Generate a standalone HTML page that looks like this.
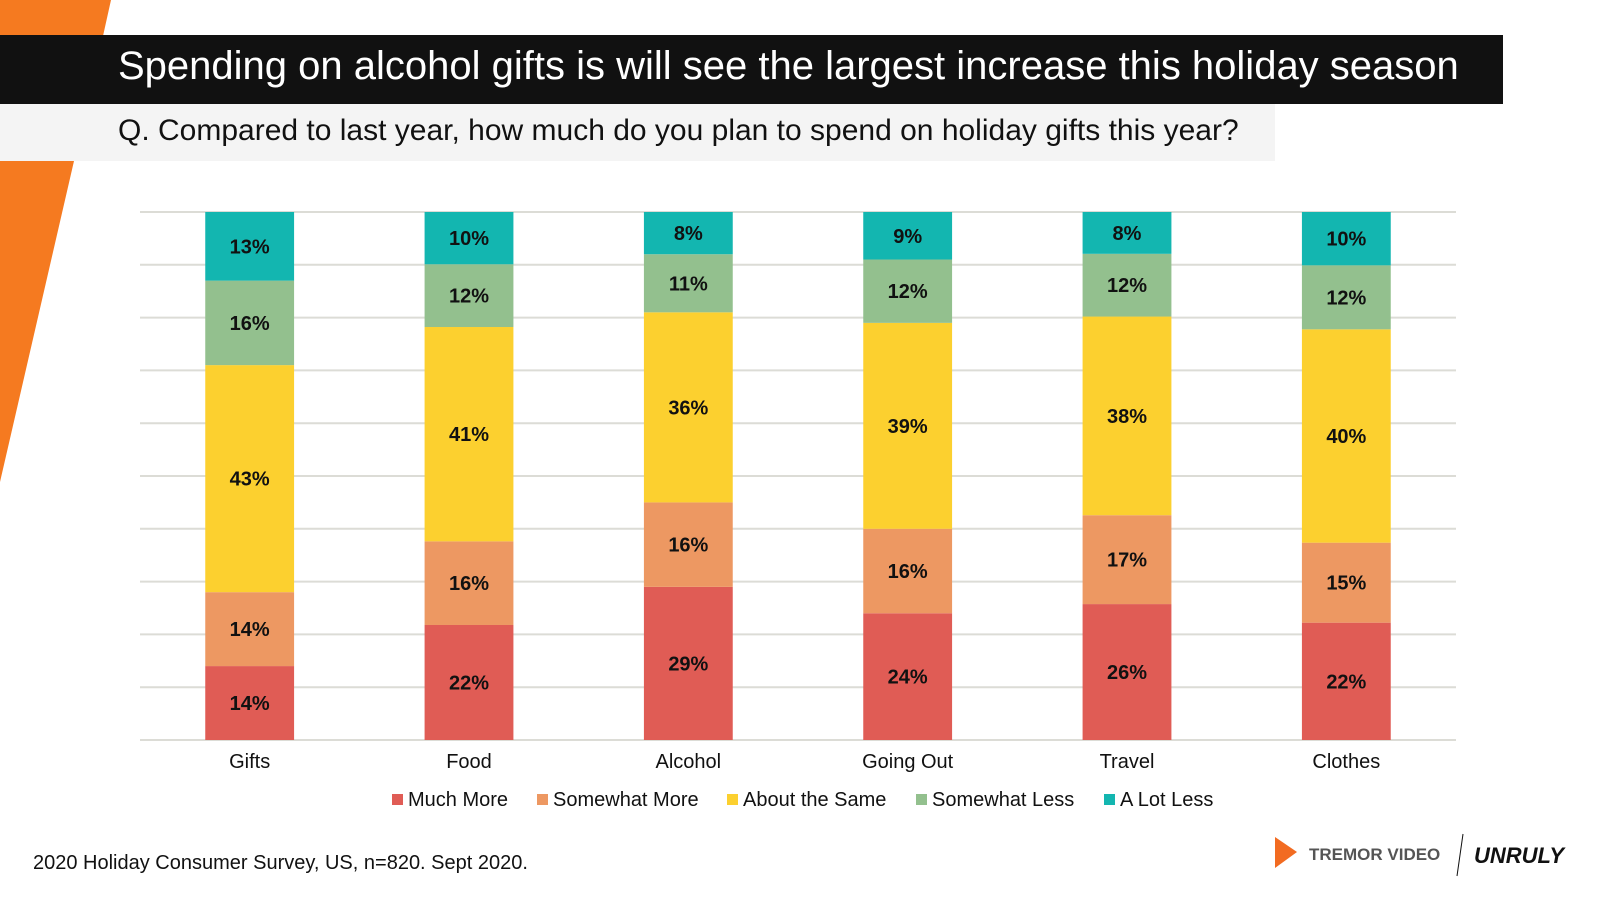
<!DOCTYPE html>
<html><head><meta charset="utf-8"><style>
body{margin:0;width:1600px;height:900px;overflow:hidden;background:#fff;font-family:"Liberation Sans",Arial,sans-serif;position:relative}
.abs{position:absolute}
</style></head><body>
<svg class="abs" style="left:0;top:0" width="1600" height="900">
<polygon points="0,0 111,0 103,36 0,36" fill="#f57a20"/>
<polygon points="0,161 74,161 0,482" fill="#f57a20"/>
</svg>
<div class="abs" style="left:0;top:35px;width:1503px;height:69px;background:#111;"></div>
<div class="abs" style="left:118px;top:44px;color:#fff;font-size:40px;white-space:nowrap;">Spending on alcohol gifts is will see the largest increase this holiday season</div>
<div class="abs" style="left:0;top:104px;width:1275px;height:57px;background:#f4f4f4;"></div>
<div class="abs" style="left:118px;top:114px;color:#111;font-size:30px;white-space:nowrap;">Q. Compared to last year, how much do you plan to spend on holiday gifts this year?</div>
<svg id="chart" class="abs" style="left:0;top:0" width="1600" height="900"></svg>
<div class="abs" style="left:33px;top:852px;font-size:20px;color:#111;white-space:nowrap;">2020 Holiday Consumer Survey, US, n=820. Sept 2020.</div>
<svg class="abs" style="left:1275px;top:830px" width="320" height="50">
<polygon points="0,7 22,22 0,38" fill="#f26b21"/>
<text x="34" y="30" font-family="Liberation Sans" font-weight="bold" font-size="17" fill="#555">TREMOR VIDEO</text>
<line x1="182" y1="46" x2="188" y2="4" stroke="#111" stroke-width="1"/>
<text x="199" y="33" font-family="Liberation Sans" font-weight="bold" font-style="italic" font-size="22" fill="#111">UNRULY</text>
</svg>
<script>
const categories=["Gifts","Food","Alcohol","Going Out","Travel","Clothes"];
const seriesNames=["Much More","Somewhat More","About the Same","Somewhat Less","A Lot Less"];
const muchMore=[14,22,29,24,26,22];
const somewhatMore=[14,16,16,16,17,15];
const aboutSame=[43,41,36,39,38,40];
const somewhatLess=[16,12,11,12,12,12];
const aLotLess=[13,10,8,9,8,10];
const colors=["#e05c55","#ed9862","#fcd02f","#93c08e","#13b6b0"];
const series=[muchMore,somewhatMore,aboutSame,somewhatLess,aLotLess];
const svg=document.getElementById('chart');
const NS='http://www.w3.org/2000/svg';
const X0=140,X1=1456,Y0=740,Y1=212;
const band=(X1-X0)/categories.length;
const xC=i=>X0+band*(i+0.5);
const yS=v=>Y0-(Y0-Y1)*v/100;
function mk(t,a){const e=document.createElementNS(NS,t);for(const k in a)e.setAttribute(k,a[k]);svg.appendChild(e);return e;}
for(let g=0;g<=10;g++){const l=mk('line',{x1:X0,x2:X1,y1:yS(g*10),y2:yS(g*10),stroke:'#dcdcd6','stroke-width':2});

}
const bw=band*0.405;
categories.forEach((c,i)=>{
 const tot=series.reduce((s,a)=>s+a[i],0);let cum=0;
 series.forEach((a,k)=>{
  const v=a[i]/tot*100;const yt=yS(cum+v),yb=yS(cum);cum+=v;
  const r=mk('rect',{x:xC(i)-bw/2,y:yt,width:bw,height:yb-yt,fill:colors[k]});
  
  
  const t=mk('text',{x:xC(i),y:(yt+yb)/2+7,'text-anchor':'middle','font-size':20,'font-weight':'bold',fill:'#111','font-family':'Liberation Sans'});
  t.textContent=a[i]+'%';
  
  
 });
 const lb=mk('text',{x:xC(i),y:768,'text-anchor':'middle','font-size':20,fill:'#111','font-family':'Liberation Sans'});
 lb.textContent=c;
 
 
});
const legX=[392,537,727,916,1104];
seriesNames.forEach((n,k)=>{
 const s=mk('rect',{x:legX[k],y:794,width:11,height:11,fill:colors[k]});
 
 
 const t=mk('text',{x:legX[k]+16,y:806,'font-size':20,fill:'#111','font-family':'Liberation Sans'});
 t.textContent=n;
 
 
});
</script>
</body></html>
